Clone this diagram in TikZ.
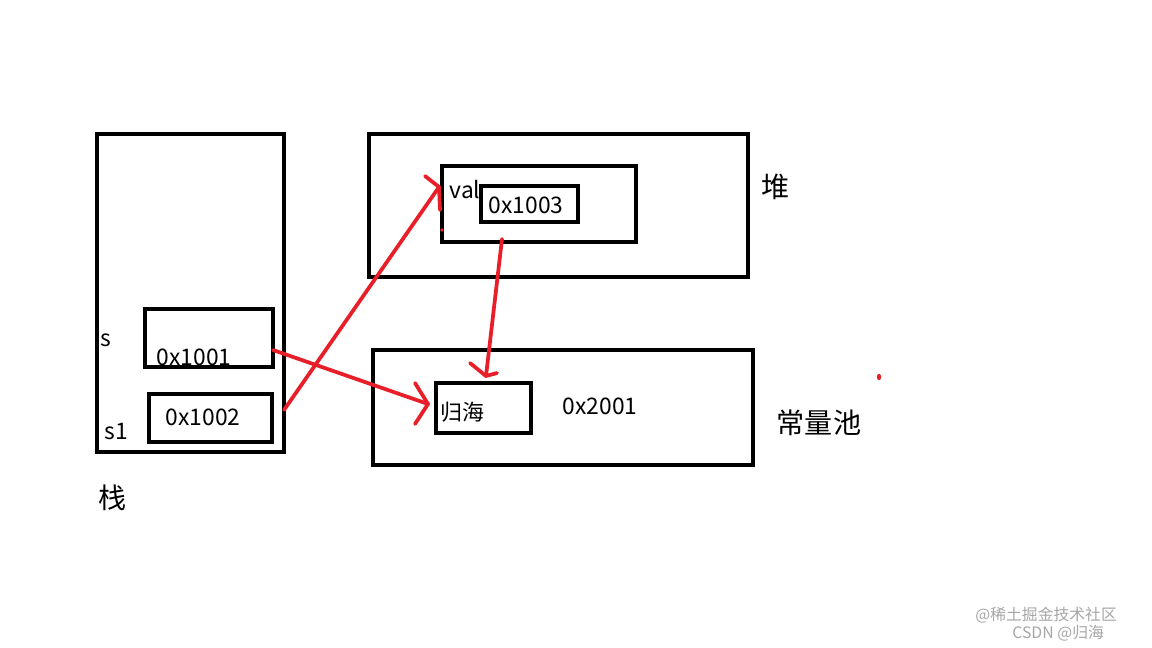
\documentclass[tikz,border=0pt]{standalone}
\usepackage{fontspec}
\setmainfont{Noto Sans CJK SC}
\newfontfamily\cjk{Noto Sans CJK SC}
\definecolor{paintred}{RGB}{232,30,40}
\begin{document}
\begin{tikzpicture}[x=0.02cm,y=-0.02cm,
  box/.style={draw=black,line width=0.08cm},
  lbl/.style={inner sep=0pt,font=\fontsize{13pt}{15pt}\selectfont},
  big/.style={inner sep=0pt,font=\cjk\fontsize{16pt}{18pt}\selectfont},
  redline/.style={draw=paintred,line width=0.075cm,line cap=round},
  wm/.style={inner sep=0pt,text=black!35,font=\cjk\fontsize{9pt}{10pt}\selectfont}]
\useasboundingbox (0,0) rectangle (1152,648);
% boxes
\draw[box] (97,134) rectangle (284,452);
\draw[box] (145,309) rectangle (273,367);
\draw[box] (149,394) rectangle (272,442);
\draw[box] (369,134) rectangle (748,277);
\draw[box] (442,166) rectangle (636,242);
\draw[box] (481,186) rectangle (578,222);
\draw[box] (373,350) rectangle (753,465);
\draw[box] (436,383) rectangle (531,433);
% labels
\node[lbl] (s) at (106,340) {s};
\node[lbl] (v1) at (194,357) {0x1001};
\node[lbl] (s1) at (116,432) {s1};
\node[lbl] (v2) at (203,417) {0x1002};
\node[big] (zhan) at (113,498) {栈};
\node[lbl] (val) at (465,190) {val};
\node[lbl] (v3) at (526,205) {0x1003};
\node[big] (dui) at (776,187) {堆};
\node[lbl] (v4) at (600,406) {0x2001};
\node[big] (pool) at (819,423) {常量池};
\node[lbl,font=\cjk\fontsize{12.5pt}{14pt}\selectfont] (gh) at (462,412) {归海};
% arrow coordinates
\coordinate (a1s) at (284,410);
\coordinate (a1t) at (439,187);
\coordinate (a1l) at (425,176);
\coordinate (a1r) at (440,210);
\coordinate (a2s) at (273,350);
\coordinate (a2t) at (428,404);
\coordinate (a2l) at (415,383);
\coordinate (a2r) at (415,424);
\coordinate (a3s) at (502,239);
\coordinate (a3t) at (486,376);
\coordinate (a3l) at (470,363);
\coordinate (a3r) at (497,373);
\draw[redline] (a1s) -- (a1t);
\draw[redline] (a1l) -- (a1t) -- (a1r);
\draw[redline] (a2s) -- (a2t);
\draw[redline] (a2l) -- (a2t) -- (a2r);
\draw[redline] (a3s) -- (a3t);
\draw[redline] (a3l) -- (a3t) -- (a3r);
% dots
\fill[paintred] (442,230) circle (1.8);
\fill[paintred] (879,377) ellipse (2.2 and 3.2);
% watermark
\node[wm,anchor=west] (wm1) at (975,615) {@稀土掘金技术社区};
\node[wm,anchor=west] (wm2) at (1012,633) {CSDN @归海};
\end{tikzpicture}
\end{document}
